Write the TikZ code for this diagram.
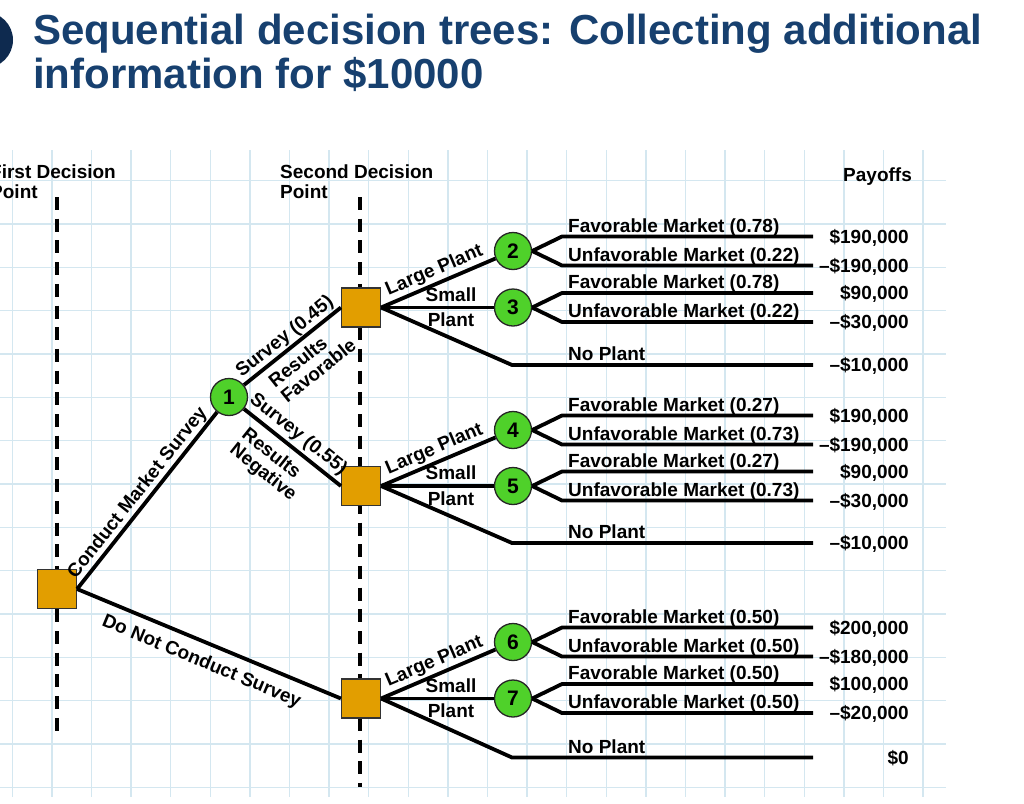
\documentclass[tikz,border=0pt]{standalone}
\usepackage{fontspec}
\setmainfont{Liberation Sans}
\definecolor{titleblue}{HTML}{17406F}
\definecolor{gridblue}{HTML}{D4E7F0}
\definecolor{decorange}{HTML}{E29E00}
\definecolor{chgreen}{HTML}{4FD12A}
\definecolor{navy}{HTML}{0E2A4F}
\begin{document}
\begin{tikzpicture}[x=1pt,y=-1pt,
  every node/.style={font=\fontsize{19}{19.5}\selectfont\bfseries, inner sep=0pt},
  gridline/.style={draw=gridblue, line width=1.3pt},
  dec/.style={rectangle, draw=black!80, line width=1.2pt, fill=decorange, minimum size=39pt},
  chance/.style={circle, draw=black!85, line width=1.3pt, fill=chgreen, minimum size=37pt, font=\fontsize{21}{21}\selectfont\bfseries},
  edge/.style={line width=3.8pt, black},
  vdash/.style={line width=3.4pt, dash pattern=on 13pt off 8.7pt, black},
  titletext/.style={font=\fontsize{42}{42}\selectfont\bfseries, text=titleblue, anchor=base west},
  hdr/.style={anchor=base west},
  mkt/.style={anchor=base west},
  pay/.style={anchor=base east}
]
\useasboundingbox (0,0) rectangle (1024,803);
\fill[white] (0,0) rectangle (1024,803);

% title
\fill[navy] (-15,40) circle (28);
\node[titletext] (t1) at (33,44) {Sequential decision trees: Collecting additional};
\node[titletext] (t2) at (33,88) {information for \$10000};

% grid
\foreach \i in {0,...,23} \draw[gridline] ({12.3+39.6*\i},150) -- ({12.3+39.6*\i},797);
\foreach \j in {0,...,14} \draw[gridline] (0,{180.5+43.35*\j}) -- (946,{180.5+43.35*\j});

% headers
\node[hdr] (h1a) at (-10,178) {First Decision};
\node[hdr] (h1b) at (-10,198) {Point};
\node[hdr] (h2a) at (280,178) {Second Decision};
\node[hdr] (h2b) at (280,198) {Point};
\node[hdr] (h3) at (843,181) {Payoffs};

% dashed decision-point lines
\coordinate (v1t) at (57,197);
\coordinate (v1b) at (57,738);
\coordinate (v2t) at (360,197);
\coordinate (v2b) at (360,787);
\draw[vdash] (v1t) -- (v1b);
\draw[vdash] (v2t) -- (v2b);

% nodes
\node[dec] (d1) at (57,589) {};
\node[chance] (c1) at (229,397) {1};
\node[dec] (d2) at (361,307.5) {};
\node[dec] (d3) at (361,486) {};
\node[dec] (d4) at (361,698.5) {};
\node[chance] (c2) at (513,251) {2};
\node[chance] (c3) at (513,307.5) {3};
\node[chance] (c4) at (513,430) {4};
\node[chance] (c5) at (513,486) {5};
\node[chance] (c6) at (513,642) {6};
\node[chance] (c7) at (513,698.5) {7};

% first stage
\draw[edge] (d1.east) -- node[sloped, above=1pt, pos=0.5] {Conduct Market Survey} (c1);
\draw[edge] (d1.east) -- node[sloped, below=9pt, pos=0.5] {Do Not Conduct Survey} (d4.west);
\draw[edge] (c1) -- node[sloped, above=1pt, pos=0.5] {Survey (0.45)}
  node[sloped, below=6.5pt, pos=0.54, align=left] {Results\\Favorable} (d2.west);
\draw[edge] (c1) -- node[sloped, above=3pt, pos=0.47] {Survey (0.55)}
  node[sloped, below=8pt, pos=0.44, align=left] {Results\\Negative} (d3.west);

% second stage
\foreach \d/\ca/\cb in {d2/c2/c3, d3/c4/c5, d4/c6/c7}{
  \draw[edge] (\d.east) -- node[sloped, above=2pt, pos=0.51] {Large Plant} (\ca);
  \draw[edge] (\d.east) -- node[above=4pt, pos=0.62] {Small} node[below=3.5pt, pos=0.62] {Plant} (\cb);
}
\coordinate (n1) at (813,365);
\coordinate (n2) at (813,543);
\coordinate (n3) at (813,757.5);
\coordinate (npx) at (512,0);
\coordinate (bx) at (562,0);
\foreach \d/\np in {d2/n1, d3/n2, d4/n3}{
  \draw[edge] (\d.east) -- (\np -| npx) -- (\np);
}

% terminal branches
\foreach \nm/\cc/\yy/\lab/\pay in {
  e2f/c2/236.5/{Favorable Market (0.78)}/{\$190,000},
  e2u/c2/265.5/{Unfavorable Market (0.22)}/{\textendash\$190,000},
  e3f/c3/293/{Favorable Market (0.78)}/{\$90,000},
  e3u/c3/322/{Unfavorable Market (0.22)}/{\textendash\$30,000},
  e4f/c4/415.5/{Favorable Market (0.27)}/{\$190,000},
  e4u/c4/444.5/{Unfavorable Market (0.73)}/{\textendash\$190,000},
  e5f/c5/471.5/{Favorable Market (0.27)}/{\$90,000},
  e5u/c5/500.5/{Unfavorable Market (0.73)}/{\textendash\$30,000},
  e6f/c6/627.5/{Favorable Market (0.50)}/{\$200,000},
  e6u/c6/656.5/{Unfavorable Market (0.50)}/{\textendash\$180,000},
  e7f/c7/684/{Favorable Market (0.50)}/{\$100,000},
  e7u/c7/713/{Unfavorable Market (0.50)}/{\textendash\$20,000}}{
  \coordinate (\nm) at (813,\yy);
  \draw[edge] (\cc.east) -- (\nm -| bx) -- (\nm);
  \node[mkt] (\nm l) at (568,{\yy-4.5}) {\lab};
  \node[pay] (\nm p) at (909,{\yy+6.8}) {\pay};
}
\foreach \np/\yy/\pay in {n1/365/{\textendash\$10,000}, n2/543/{\textendash\$10,000}, n3/757.5/{\$0}}{
  \node[mkt] (\np l) at (568,{\yy-4.5}) {No Plant};
  \node[pay] (\np p) at (909,{\yy+6.8}) {\pay};
}
\end{tikzpicture}
\end{document}
